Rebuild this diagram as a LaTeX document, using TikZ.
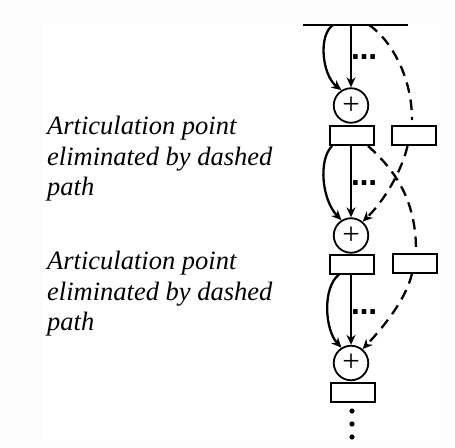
\documentclass[tikz,border=0pt]{standalone}
\usepackage{fontspec}
\setmainfont{Liberation Serif}
\newfontfamily\dotsfont{DejaVu Sans}
\usetikzlibrary{arrows.meta,calc}
\definecolor{bgout}{HTML}{FCFCFC}
\begin{document}
\begin{tikzpicture}[x=1pt,y=-1pt,
  ln/.style={line width=2.3pt},
  tipA/.style={-{Stealth[length=10pt,width=9pt]}},
  arr/.style={ln,tipA},
  dsh/.style={ln,dash pattern=on 10.5pt off 7pt},
  sumnode/.style={circle,draw,line width=1.8pt,minimum size=34.5pt,inner sep=0pt,font=\fontsize{31}{31}\selectfont},
  blk/.style={rectangle,draw,line width=2pt,minimum width=44pt,minimum height=19pt,inner sep=0pt},
  lab/.style={align=left,inner sep=0pt,anchor=north west,font=\itshape\fontsize{26.5}{30.5}\selectfont},
  hdots/.style={inner sep=0pt,font=\dotsfont\bfseries\fontsize{26}{26}\selectfont}
]
\useasboundingbox (0,0) rectangle (455,447);
\fill[bgout] (0,0) rectangle (455,447);
\fill[white] (42.5,24) rectangle (439.5,440);

% nodes
\node[sumnode] (c1) at (351,105.5) {+};
\node[blk] (r1) at (352,135.5) {};
\node[blk] (rr1) at (413.5,135.5) {};
\node[sumnode] (c2) at (351,235.5) {+};
\node[blk] (r2) at (352,264) {};
\node[blk] (rr2) at (415,263) {};
\node[sumnode] (c3) at (351,363) {+};
\node[blk] (r3) at (352.5,392.5) {};

% top bar
\coordinate (tL) at (303,25);
\coordinate (tR) at (408,25);
\draw[ln] (tL) -- (tR);
\coordinate (t1) at (351,25);
\coordinate (t2) at (333,25);
\coordinate (t3) at (369,25);
\coordinate (d1) at (412,120);
\coordinate (d2) at (416,250);

% section 1
\draw[arr] (t1) -- (c1.north);
\draw[arr] (t2) .. controls (318,35) and (322,75) .. (c1.122);
\draw[dsh] (t3) .. controls (385,35) and (412,70) .. (d1);
\node[hdots] (e1) at (364,57) {…};

% section 2
\draw[arr] (c2.north |- r1.south) -- (c2.north);
\draw[arr] ([xshift=3pt]r1.south west) .. controls (318,160) and (322,200) .. (c2.122);
\draw[dsh] ([xshift=-7pt]r1.south east) .. controls (395,170) and (416,200) .. (d2);
\draw[dsh,tipA] ([xshift=-6pt]rr1.south) .. controls (402,170) and (385,200) .. (c2.50);
\node[hdots] (e2) at (364,183) {…};

% section 3
\draw[arr] (c3.north |- r2.south) -- (c3.north);
\draw[arr] ([xshift=10pt]r2.south west) .. controls (322,288) and (325,330) .. (c3.122);
\draw[dsh,tipA] ([xshift=-3pt]rr2.south) .. controls (407,295) and (390,320) .. (c3.50);
\node[hdots] (e3) at (364,312) {…};

% continuation dots
\coordinate (v1) at (352,411);
\coordinate (v2) at (352,424);
\coordinate (v3) at (352,437);
\fill (v1) circle (2.6pt) (v2) circle (2.6pt) (v3) circle (2.6pt);

% labels
\node[lab] (l1) at (47,116) {Articulation point\\eliminated by dashed\\path};
\node[lab] (l2) at (47,251) {Articulation point\\eliminated by dashed\\path};
\end{tikzpicture}
\end{document}
